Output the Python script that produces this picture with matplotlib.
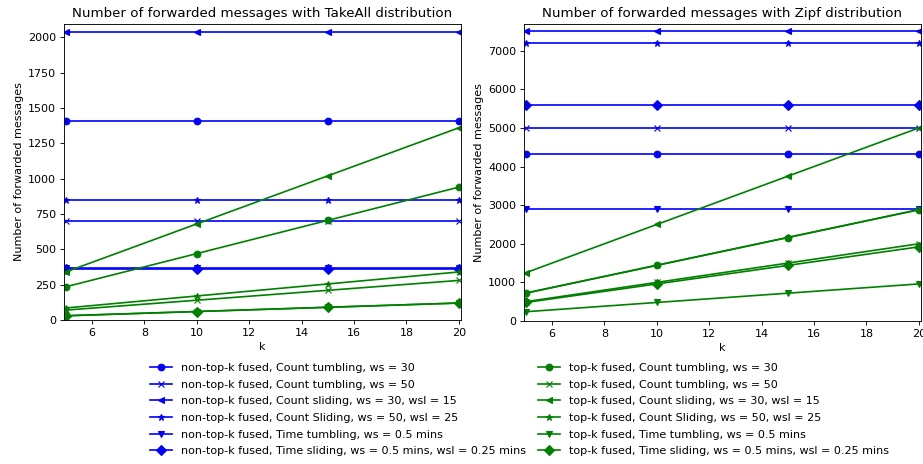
import matplotlib
matplotlib.use("Agg")
import matplotlib.pyplot as plt

k = [5, 10, 15, 20]

configs = [
    "Count tumbling, ws = 30",
    "Count tumbling, ws = 50",
    "Count sliding, ws = 30, wsl = 15",
    "Count Sliding, ws = 50, wsl = 25",
    "Time tumbling, ws = 0.5 mins",
    "Time sliding, ws = 0.5 mins, wsl = 0.25 mins",
]
markers = ["o", "x", "<", "*", "v", "D"]

# TakeAll distribution
takeall_nontopk = [
    [1410, 1410, 1410, 1410],
    [700, 700, 700, 700],
    [2040, 2040, 2040, 2040],
    [850, 850, 850, 850],
    [365, 365, 365, 365],
    [358, 358, 358, 358],
]
takeall_topk = [
    [235, 470, 705, 940],
    [70, 140, 210, 280],
    [340, 680, 1020, 1360],
    [85, 170, 255, 340],
    [30, 60, 90, 120],
    [30, 60, 90, 120],
]

# Zipf distribution
zipf_nontopk = [
    [4320, 4320, 4320, 4320],
    [5000, 5000, 5000, 5000],
    [7500, 7500, 7500, 7500],
    [7200, 7200, 7200, 7200],
    [2900, 2900, 2900, 2900],
    [5600, 5600, 5600, 5600],
]
zipf_topk = [
    [720, 1440, 2160, 2880],
    [500, 1000, 1500, 2000],
    [1250, 2500, 3750, 5000],
    [725, 1445, 2165, 2885],
    [240, 480, 720, 960],
    [480, 960, 1440, 1920],
]

dpi = 80
W, H = 923, 464
fig = plt.figure(figsize=(W / dpi, H / dpi), dpi=dpi)
ax1 = fig.add_axes([64 / W, 1 - 320 / H, 397 / W, 296 / H])
ax2 = fig.add_axes([524 / W, 1 - 321 / H, 397 / W, 297 / H])

def draw(ax, nontopk, topk, title, ymax):
    blue, green = [], []
    for vals, m, c in zip(nontopk, markers, configs):
        ln, = ax.plot(k, vals, color="b", marker=m, label="non-top-k fused, " + c)
        blue.append(ln)
    for vals, m, c in zip(topk, markers, configs):
        ln, = ax.plot(k, vals, color="g", marker=m, label="top-k fused, " + c)
        green.append(ln)
    ax.set_title(title)
    ax.set_xlabel("k")
    ax.set_ylabel("Number of forwarded messages")
    ax.set_xlim(4.93, 20.08)
    ax.set_ylim(0, ymax)
    ax.set_xticks([6, 8, 10, 12, 14, 16, 18, 20])
    return blue, green

blue, _ = draw(ax1, takeall_nontopk, takeall_topk,
               "Number of forwarded messages with TakeAll distribution", 2094)
_, green = draw(ax2, zipf_nontopk, zipf_topk,
                "Number of forwarded messages with Zipf distribution", 7690)

fig.legend(handles=blue, loc="upper left", frameon=False, labelspacing=0.6,
           bbox_to_anchor=(140 / W, 1 - 353 / H))
fig.legend(handles=green, loc="upper left", frameon=False, labelspacing=0.6,
           bbox_to_anchor=(528 / W, 1 - 353 / H))

fig.savefig("out.png", dpi=dpi)
